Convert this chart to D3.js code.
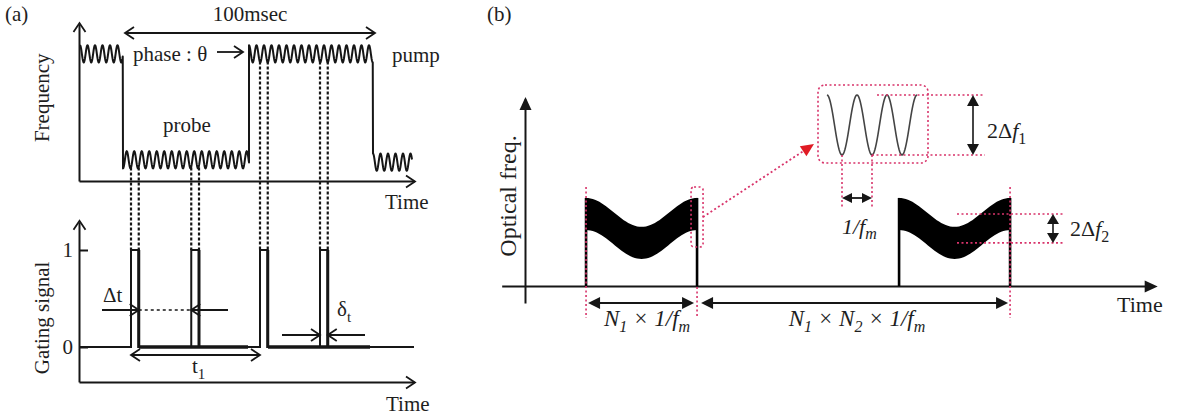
<!DOCTYPE html>
<html>
<head>
<meta charset="utf-8">
<script src="https://cdn.jsdelivr.net/npm/d3@7"></script>
<style>
  body { margin: 0; background: #fff; }
</style>
</head>
<body>
<script>
// ---- panel (a): frequency switching and gating, times in msec ----
const freqSegments = [
  { name: "pump",  t0: 0.4,   t1: 17.6,  level: 0.81,  start: 0 },
  { name: "probe", t0: 17.6,  t1: 68.0,  level: 0.135, start: 1 },
  { name: "pump",  t0: 68.0,  t1: 117.6, level: 0.81,  start: 0 },
  { name: "probe", t0: 117.6, t1: 133.2, level: 0.12,  start: 0 }
];
const wavePeriod = 3.0;     // msec
const waveAmp = 0.055;      // frequency units
const gatePulses = [20.8, 44.9, 72.4, 96.4];
const gateWidth = 3.1;
const gateHold = [[24.0, 67.6], [75.6, 116.4]];
const periodMarker = [18.4, 118.4];   // the 100 msec span
const gateTicks = [0, 1];

// ---- panel (b): modulated optical frequency, time in units of N1/fm ----
const blocks = [[0.55, 1.55], [3.37, 4.37]];
const bandMid = 0.3045, bandSwing = 0.0765, bandHalf = 0.085;
const insetPeriods = 3;

const ink = "#161616", red = "#d8336a", redHead = "#e01b24";
const serif = "Liberation Serif";

const svg = d3.select("body").append("svg")
    .attr("width", 1183)
    .attr("height", 420)
    .attr("font-family", serif);

// open chevron arrowhead, tip at (x,y), angle in degrees (0 = right)
function openHead(g, x, y, ang) {
    g.append("path")
        .attr("d", "M-9,-6L0,0L-9,6")
        .attr("transform", `translate(${x},${y}) rotate(${ang})`)
        .attr("fill", "none")
        .attr("stroke", ink)
        .attr("stroke-width", 1.8);
}
// filled triangle arrowhead
function solidHead(g, x, y, ang, color = ink, len = 11, hw = 5) {
    g.append("path")
        .attr("d", `M0,0L${-len},${-hw}L${-len},${hw}Z`)
        .attr("transform", `translate(${x},${y}) rotate(${ang})`)
        .attr("fill", color);
}
function line(g, x1, y1, x2, y2, w = 2, color = ink, dash = null) {
    return g.append("line")
        .attr("x1", x1).attr("y1", y1).attr("x2", x2).attr("y2", y2)
        .attr("stroke", color).attr("stroke-width", w)
        .attr("stroke-dasharray", dash);
}
function label(g, x, y, size, str) {
    return g.append("text")
        .attr("x", x).attr("y", y)
        .attr("font-family", serif)
        .attr("font-size", size)
        .attr("fill", "#1e1e1e")
        .text(str);
}

// =================== panel (a) ===================
const A = svg.append("g");
const tA = d3.scaleLinear().domain([0, 134]).range([79, 414]);
const fA = d3.scaleLinear().domain([0, 1]).range([181, 24]);
const gA = d3.scaleLinear().domain([0, 1]).range([347, 250]);
const gAx = d3.scaleLinear().domain([-0.36, 1.29]).range([gA(-0.36), gA(1.29)]);

label(A, 5, 21, 21, "(a)");

// axes
function styleAxis(sel) {
    sel.attr("font-family", serif);
    sel.select(".domain").attr("stroke", ink).attr("stroke-width", 2);
    sel.selectAll(".tick line").attr("stroke", ink).attr("stroke-width", 2);
    sel.selectAll(".tick text").attr("font-size", 21).attr("font-family", serif).attr("fill", "#1e1e1e");
}
A.append("g").attr("transform", `translate(${tA(0)},0)`)
    .call(d3.axisLeft(fA).ticks(0).tickSizeOuter(0)).call(styleAxis);
A.append("g").attr("transform", `translate(0,${fA(0)})`)
    .call(d3.axisBottom(tA).ticks(0).tickSizeOuter(0)).call(styleAxis);
openHead(A, tA(0) + 0.5, fA(1) - 1, -90);
openHead(A, tA(134) + 1, fA(0) + 0.5, 0);

A.append("g").attr("transform", `translate(${tA(0)},0)`)
    .call(d3.axisLeft(gAx).tickValues(gateTicks).tickSizeInner(-9).tickSizeOuter(0).tickPadding(6)
        .tickFormat(d3.format("d")))
    .call(styleAxis);
A.append("g").attr("transform", `translate(0,${gAx(-0.36)})`)
    .call(d3.axisBottom(tA).ticks(0).tickSizeOuter(0)).call(styleAxis);
openHead(A, tA(0) + 0.5, gAx(1.29) - 1, -90);
openHead(A, tA(134) + 1, gAx(-0.36) + 0.5, 0);

// frequency waveform
const wavePts = [];
freqSegments.forEach(s => {
    for (let t = s.t0; t <= s.t1 + 1e-9; t += 0.15) {
        const ph = 2 * Math.PI * (t - s.t0) / wavePeriod + (s.start ? Math.PI : 0);
        wavePts.push([t, s.level + waveAmp * Math.cos(ph)]);
    }
});
A.append("path")
    .datum(wavePts)
    .attr("d", d3.line().x(d => tA(d[0])).y(d => fA(d[1])))
    .attr("fill", "none").attr("stroke", ink).attr("stroke-width", 2)
    .attr("stroke-linejoin", "round");

// gating signal
const gatePts = [[0, 0]];
gatePulses.forEach(p => gatePts.push([p, 0], [p, 1], [p + gateWidth, 1], [p + gateWidth, 0]));
gatePts.push([134, 0]);
A.append("path")
    .datum(gatePts)
    .attr("d", d3.line().x(d => tA(d[0])).y(d => gA(d[1])))
    .attr("fill", "none").attr("stroke", ink).attr("stroke-width", 2);
gateHold.forEach(h => line(A, tA(h[0]), gA(0), tA(h[1]), gA(0), 3.5));
gatePulses.forEach(p => line(A, tA(p + gateWidth), gA(0) + 1, tA(p + gateWidth), gA(1), 3));

// dashed projections from the waveform to the gate
gatePulses.forEach(p => {
    const seg = freqSegments.find(s => p >= s.t0 && p < s.t1);
    [p, p + gateWidth].forEach(t => {
        line(A, tA(t), fA(seg.level - waveAmp) - 1, tA(t), gA(1), 2.2, ink, "3,2");
    });
});

// 100 msec marker
const y100 = 33;
line(A, tA(periodMarker[0]), y100, tA(periodMarker[1]), y100, 1.8);
openHead(A, tA(periodMarker[0]), y100, 180);
openHead(A, tA(periodMarker[1]), y100, 0);
label(A, tA((periodMarker[0] + periodMarker[1]) / 2), 21, 21, "100msec").attr("text-anchor", "middle");

label(A, 133, 61, 21, "phase : θ");
line(A, 217, 52, 242, 52, 1.8);
openHead(A, 243, 52, 0);
label(A, 392, 62, 21, "pump");
label(A, 163, 132, 21, "probe");
label(A, 385, 209, 21, "Time");
label(A, 386, 411, 21, "Time");
label(A, 0, 0, 21, "Frequency")
    .attr("transform", `translate(49,${fA(0.53)}) rotate(-90)`).attr("text-anchor", "middle");
label(A, 0, 0, 21, "Gating signal")
    .attr("transform", `translate(49,318) rotate(-90)`).attr("text-anchor", "middle");

// Δt
const yDt = 310;
const p0 = tA(gatePulses[0] + gateWidth), p1 = tA(gatePulses[1]);
line(A, 102, yDt, p0, yDt, 1.8);
openHead(A, p0, yDt, 0);
line(A, p0, yDt, p1, yDt, 1.6, ink, "3,3");
line(A, 228, yDt, p1, yDt, 1.8);
openHead(A, p1, yDt, 180);
label(A, 103, 302, 21, "Δt");

// t1
const yT1 = 355;
line(A, tA(gatePulses[0]), yT1, tA(gatePulses[2]), yT1, 1.8);
openHead(A, tA(gatePulses[0]), yT1, 180);
openHead(A, tA(gatePulses[2]), yT1, 0);
const t1 = label(A, 192, 373, 21, "");
t1.append("tspan").text("t");
t1.append("tspan").attr("dy", 6).attr("font-size", 15).text("1");

// δt
const yDl = 335;
const q0 = tA(gatePulses[3]), q1 = tA(gatePulses[3] + gateWidth);
line(A, 282, yDl, q0, yDl, 1.8);
openHead(A, q0, yDl, 0);
line(A, 365, yDl, q1, yDl, 1.8);
openHead(A, q1, yDl, 180);
const dl = label(A, 337, 316, 21, "");
dl.append("tspan").text("δ");
dl.append("tspan").attr("dy", 6).attr("font-size", 15).text("t");

// =================== panel (b) ===================
const B = svg.append("g");
const tB = d3.scaleLinear().domain([0, 1]).range([525, 636]);
const fB = d3.scaleLinear().domain([0, 1]).range([286, 97]);

label(B, 487, 21, 21, "(b)");

B.append("g").attr("transform", `translate(${tB(0)},0)`)
    .call(d3.axisLeft(fB.copy().domain([-0.09, 0.99]).range([fB(-0.09), fB(0.99)])).ticks(0).tickSizeOuter(0))
    .call(styleAxis);
B.append("g").attr("transform", `translate(0,${fB(0)})`)
    .call(d3.axisBottom(tB.copy().domain([-0.21, 5.6]).range([tB(-0.21), tB(5.6)])).ticks(0).tickSizeOuter(0))
    .call(styleAxis);
solidHead(B, tB(0) + 0.5, fB(1), -90, ink, 13, 6);
solidHead(B, tB(5.7), fB(0) + 0.5, 0, ink, 13, 6);

const bandArea = d3.area()
    .x(d => d.x)
    .y0(d => fB(d.c - bandHalf))
    .y1(d => fB(d.c + bandHalf));
blocks.forEach(([b0, b1]) => {
    const pts = d3.range(0, 1.0001, 0.02).map(u => ({
        x: tB(b0 + u * (b1 - b0)),
        c: bandMid + bandSwing * Math.cos(2 * Math.PI * u)
    }));
    B.append("path").datum(pts).attr("d", bandArea).attr("fill", "#000");
    const top = fB(bandMid + bandSwing + bandHalf);
    line(B, tB(b0), fB(0), tB(b0), top, 2.6, "#000");
    line(B, tB(b1), fB(0), tB(b1), top, 2.6, "#000");
});

const dot = "2,2.5";
line(B, tB(blocks[0][0]), 187, tB(blocks[0][0]), 318, 1.6, red, dot);
line(B, tB(blocks[0][1]), 287, tB(blocks[0][1]), 318, 1.6, red, dot);
line(B, tB(blocks[1][1]), 187, tB(blocks[1][1]), 318, 1.6, red, dot);
B.append("rect").attr("x", tB(blocks[0][1]) - 6).attr("y", 187).attr("width", 12).attr("height", 60)
    .attr("rx", 3).attr("fill", "none").attr("stroke", red).attr("stroke-width", 1.6).attr("stroke-dasharray", dot);

// zoom arrow
line(B, 703, 217, 805, 150, 1.8, red, dot);
solidHead(B, 814, 144, Math.atan2(144 - 217, 814 - 703) * 180 / Math.PI, redHead, 13, 6);

// inset
B.append("rect").attr("x", 818).attr("y", 85).attr("width", 110).attr("height", 78)
    .attr("rx", 7).attr("fill", "none").attr("stroke", red).attr("stroke-width", 1.6).attr("stroke-dasharray", dot);
const iX = d3.scaleLinear().domain([0, insetPeriods]).range([827, 917]);
const iY = d3.scaleLinear().domain([-1, 1]).range([155, 95]);
B.append("path")
    .datum(d3.range(0, insetPeriods + 0.0001, 0.02))
    .attr("d", d3.line().x(p => iX(p)).y(p => iY(Math.cos(2 * Math.PI * p))))
    .attr("fill", "none").attr("stroke", "#444").attr("stroke-width", 1.6);
line(B, 877, iY(1), 985, iY(1), 1.6, red, dot);
line(B, iX(1.5), iY(-1), 985, iY(-1), 1.6, red, dot);
line(B, 973, iY(1) + 10, 973, iY(-1) - 10, 1.6);
solidHead(B, 973, iY(1), -90, ink, 11, 6);
solidHead(B, 973, iY(-1), 90, ink, 11, 6);
const df1 = label(B, 987, 138, 22, "");
df1.append("tspan").text("2Δ");
df1.append("tspan").attr("font-style", "italic").text("f");
df1.append("tspan").attr("dy", 6).attr("font-size", 16).text("1");

line(B, iX(0.5), iY(-1), iX(0.5), 207, 1.6, red, dot);
line(B, iX(1.5), iY(-1), iX(1.5), 207, 1.6, red, dot);
line(B, iX(0.5) + 8, 198, iX(1.5) - 8, 198, 1.8);
solidHead(B, iX(0.5), 198, 180, ink, 10, 5);
solidHead(B, iX(1.5), 198, 0, ink, 10, 5);
const fm = label(B, 842, 234, 22, "").attr("font-style", "italic");
fm.append("tspan").text("1/f");
fm.append("tspan").attr("dy", 5).attr("font-size", 16).text("m");

// 2Δf2
const yHi = fB(bandMid + bandSwing), yLo = fB(bandMid - bandSwing);
line(B, 957, yHi, 1065, yHi, 1.6, red, dot);
line(B, 957, yLo, 1065, yLo, 1.6, red, dot);
line(B, 1053, yHi + 8, 1053, yLo - 8, 1.6);
solidHead(B, 1053, yHi, -90, ink, 10, 6);
solidHead(B, 1053, yLo, 90, ink, 10, 6);
const df2 = label(B, 1070, 236, 22, "");
df2.append("tspan").text("2Δ");
df2.append("tspan").attr("font-style", "italic").text("f");
df2.append("tspan").attr("dy", 6).attr("font-size", 16).text("2");

// durations
const yDur = 303;
function dblArrow(x1, x2) {
    line(B, x1 + 9, yDur, x2 - 9, yDur, 2);
    solidHead(B, x1, yDur, 180, ink, 12, 6);
    solidHead(B, x2, yDur, 0, ink, 12, 6);
}
dblArrow(tB(blocks[0][0]) + 2, tB(blocks[0][1]) - 3);
dblArrow(tB(blocks[0][1]) + 4, tB(blocks[1][1]) - 2);

function nLabel(x, parts) {
    const t = label(B, x, 326, 23, "")
        .attr("font-style", "italic").attr("text-anchor", "middle");
    parts.forEach(p => {
        t.append("tspan").attr("dy", p.sub ? 6 : (p.back ? -6 : 0))
            .attr("font-size", p.sub ? 16 : 23).text(p.s);
    });
}
nLabel(647, [{ s: "N" }, { s: "1", sub: 1 }, { s: " × 1/f", back: 1 }, { s: "m", sub: 1 }]);
nLabel(857, [{ s: "N" }, { s: "1", sub: 1 }, { s: " × N", back: 1 }, { s: "2", sub: 1 },
             { s: " × 1/f", back: 1 }, { s: "m", sub: 1 }]);

label(B, 1117, 312, 22, "Time");
label(B, 0, 0, 24, "Optical freq.")
    .attr("transform", `translate(516,196) rotate(-90)`).attr("text-anchor", "middle");
</script>
</body>
</html>
